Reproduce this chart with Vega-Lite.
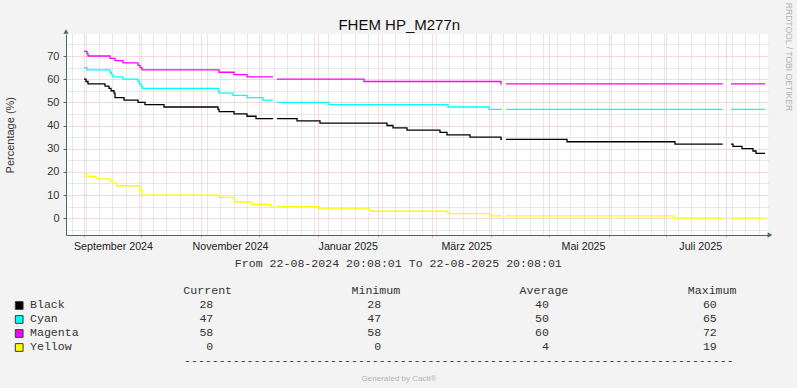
{
  "$schema": "https://vega.github.io/schema/vega-lite/v6.json",
  "width": 702,
  "height": 201,
  "autosize": {"type": "none"},
  "padding": {"left": 66, "top": 34, "right": 29, "bottom": 153},
  "background": "#F3F3F3",
  "config": {
    "view": {"fill": "#FFFFFF", "stroke": null},
    "axis": {"labelFont": "Liberation Sans", "titleFont": "Liberation Sans"}
  },
  "datasets": {
    "lines": [
      {"series": "Black", "time": "2024-09-01T04:46", "value": 60},
      {"series": "Black", "time": "2024-09-02T05:44", "value": 59},
      {"series": "Black", "time": "2024-09-03T06:42", "value": 58},
      {"series": "Black", "time": "2024-09-12T02:50", "value": 57},
      {"series": "Black", "time": "2024-09-14T04:44", "value": 56},
      {"series": "Black", "time": "2024-09-15T05:41", "value": 55},
      {"series": "Black", "time": "2024-09-16T19:08", "value": 54},
      {"series": "Black", "time": "2024-09-17T07:36", "value": 52},
      {"series": "Black", "time": "2024-09-22T00:00", "value": 51},
      {"series": "Black", "time": "2024-09-29T06:37", "value": 50},
      {"series": "Black", "time": "2024-10-02T21:58", "value": 49},
      {"series": "Black", "time": "2024-10-12T19:03", "value": 48},
      {"series": "Black", "time": "2024-11-09T20:54", "value": 47},
      {"series": "Black", "time": "2024-11-10T09:23", "value": 46},
      {"series": "Black", "time": "2024-11-18T04:34", "value": 45},
      {"series": "Black", "time": "2024-11-24T22:47", "value": 44},
      {"series": "Black", "time": "2024-11-29T15:06", "value": 43},
      {"series": "Black", "time": "2024-12-08T11:14", "value": 43},
      {"series": "Black", "time": "2024-12-09T12:10", "value": null},
      {"series": "Black", "time": "2024-12-10T13:08", "value": 43},
      {"series": "Black", "time": "2024-12-20T22:42", "value": 42},
      {"series": "Black", "time": "2025-01-01T21:43", "value": 41},
      {"series": "Black", "time": "2025-02-05T17:47", "value": 40},
      {"series": "Black", "time": "2025-02-08T20:38", "value": 39},
      {"series": "Black", "time": "2025-02-16T03:22", "value": 38},
      {"series": "Black", "time": "2025-03-05T07:09", "value": 37},
      {"series": "Black", "time": "2025-03-08T22:29", "value": 36},
      {"series": "Black", "time": "2025-03-20T21:30", "value": 35},
      {"series": "Black", "time": "2025-04-06T00:20", "value": 34},
      {"series": "Black", "time": "2025-04-06T12:49", "value": 34},
      {"series": "Black", "time": "2025-04-07T13:47", "value": null},
      {"series": "Black", "time": "2025-04-08T14:44", "value": 34},
      {"series": "Black", "time": "2025-05-10T07:55", "value": 33},
      {"series": "Black", "time": "2025-07-05T11:35", "value": 32},
      {"series": "Black", "time": "2025-07-30T06:50", "value": 32},
      {"series": "Black", "time": "2025-08-01T12:29", "value": null},
      {"series": "Black", "time": "2025-08-03T14:24", "value": 32},
      {"series": "Black", "time": "2025-08-04T15:22", "value": 31},
      {"series": "Black", "time": "2025-08-09T07:39", "value": 30},
      {"series": "Black", "time": "2025-08-15T00:56", "value": 29},
      {"series": "Black", "time": "2025-08-16T14:22", "value": 28},
      {"series": "Black", "time": "2025-08-21T06:40", "value": 28},
      {"series": "Cyan", "time": "2024-09-01T04:46", "value": 65},
      {"series": "Cyan", "time": "2024-09-02T18:13", "value": 64},
      {"series": "Cyan", "time": "2024-09-14T17:12", "value": 63},
      {"series": "Cyan", "time": "2024-09-15T11:56", "value": 62},
      {"series": "Cyan", "time": "2024-09-16T06:39", "value": 61},
      {"series": "Cyan", "time": "2024-09-21T11:27", "value": 60},
      {"series": "Cyan", "time": "2024-09-29T06:37", "value": 59},
      {"series": "Cyan", "time": "2024-09-30T01:20", "value": 58},
      {"series": "Cyan", "time": "2024-09-30T20:04", "value": 57},
      {"series": "Cyan", "time": "2024-10-01T14:45", "value": 56},
      {"series": "Cyan", "time": "2024-11-10T03:09", "value": 55},
      {"series": "Cyan", "time": "2024-11-10T09:23", "value": 54},
      {"series": "Cyan", "time": "2024-11-17T16:05", "value": 53},
      {"series": "Cyan", "time": "2024-11-24T22:47", "value": 52},
      {"series": "Cyan", "time": "2024-12-03T06:26", "value": 51},
      {"series": "Cyan", "time": "2024-12-08T11:14", "value": 51},
      {"series": "Cyan", "time": "2024-12-09T12:10", "value": null},
      {"series": "Cyan", "time": "2024-12-10T13:08", "value": 50},
      {"series": "Cyan", "time": "2025-01-06T14:01", "value": 49},
      {"series": "Cyan", "time": "2025-03-09T10:58", "value": 48},
      {"series": "Cyan", "time": "2025-03-30T18:36", "value": 47},
      {"series": "Cyan", "time": "2025-04-06T12:49", "value": 47},
      {"series": "Cyan", "time": "2025-04-07T13:47", "value": null},
      {"series": "Cyan", "time": "2025-04-08T14:44", "value": 47},
      {"series": "Cyan", "time": "2025-07-30T06:50", "value": 47},
      {"series": "Cyan", "time": "2025-08-01T12:29", "value": null},
      {"series": "Cyan", "time": "2025-08-03T14:24", "value": 47},
      {"series": "Cyan", "time": "2025-08-21T06:40", "value": 47},
      {"series": "Magenta", "time": "2024-09-01T04:46", "value": 72},
      {"series": "Magenta", "time": "2024-09-02T18:13", "value": 71},
      {"series": "Magenta", "time": "2024-09-03T06:42", "value": 70},
      {"series": "Magenta", "time": "2024-09-14T17:12", "value": 69},
      {"series": "Magenta", "time": "2024-09-17T07:36", "value": 68},
      {"series": "Magenta", "time": "2024-09-21T11:27", "value": 67},
      {"series": "Magenta", "time": "2024-09-29T06:37", "value": 66},
      {"series": "Magenta", "time": "2024-09-30T07:35", "value": 65},
      {"series": "Magenta", "time": "2024-10-01T08:31", "value": 64},
      {"series": "Magenta", "time": "2024-11-10T09:23", "value": 63},
      {"series": "Magenta", "time": "2024-11-18T04:34", "value": 62},
      {"series": "Magenta", "time": "2024-11-24T22:47", "value": 61},
      {"series": "Magenta", "time": "2024-12-08T11:14", "value": 61},
      {"series": "Magenta", "time": "2024-12-09T12:10", "value": null},
      {"series": "Magenta", "time": "2024-12-10T13:08", "value": 60},
      {"series": "Magenta", "time": "2025-01-24T18:46", "value": 59},
      {"series": "Magenta", "time": "2025-04-06T00:20", "value": 58},
      {"series": "Magenta", "time": "2025-04-06T12:49", "value": 58},
      {"series": "Magenta", "time": "2025-04-07T13:47", "value": null},
      {"series": "Magenta", "time": "2025-04-08T14:44", "value": 58},
      {"series": "Magenta", "time": "2025-07-30T06:50", "value": 58},
      {"series": "Magenta", "time": "2025-08-01T12:29", "value": null},
      {"series": "Magenta", "time": "2025-08-03T14:24", "value": 58},
      {"series": "Magenta", "time": "2025-08-21T06:40", "value": 58},
      {"series": "Yellow", "time": "2024-09-01T04:46", "value": 19},
      {"series": "Yellow", "time": "2024-09-02T18:13", "value": 18},
      {"series": "Yellow", "time": "2024-09-07T10:30", "value": 17},
      {"series": "Yellow", "time": "2024-09-14T17:12", "value": 16},
      {"series": "Yellow", "time": "2024-09-16T06:39", "value": 15},
      {"series": "Yellow", "time": "2024-09-18T08:34", "value": 14},
      {"series": "Yellow", "time": "2024-09-30T07:35", "value": 12},
      {"series": "Yellow", "time": "2024-10-01T08:31", "value": 10},
      {"series": "Yellow", "time": "2024-11-10T09:23", "value": 9},
      {"series": "Yellow", "time": "2024-11-18T04:34", "value": 8},
      {"series": "Yellow", "time": "2024-11-18T17:02", "value": 7},
      {"series": "Yellow", "time": "2024-11-27T13:11", "value": 6},
      {"series": "Yellow", "time": "2024-12-07T10:16", "value": 5},
      {"series": "Yellow", "time": "2024-12-08T11:14", "value": 5},
      {"series": "Yellow", "time": "2024-12-09T12:10", "value": null},
      {"series": "Yellow", "time": "2024-12-10T13:08", "value": 5},
      {"series": "Yellow", "time": "2025-01-01T09:14", "value": 4},
      {"series": "Yellow", "time": "2025-01-27T21:39", "value": 3},
      {"series": "Yellow", "time": "2025-03-09T10:58", "value": 2},
      {"series": "Yellow", "time": "2025-03-31T07:05", "value": 1},
      {"series": "Yellow", "time": "2025-04-06T12:49", "value": 1},
      {"series": "Yellow", "time": "2025-04-07T13:47", "value": null},
      {"series": "Yellow", "time": "2025-04-08T14:44", "value": 1},
      {"series": "Yellow", "time": "2025-07-04T23:08", "value": 0},
      {"series": "Yellow", "time": "2025-07-30T06:50", "value": 0},
      {"series": "Yellow", "time": "2025-08-01T12:29", "value": null},
      {"series": "Yellow", "time": "2025-08-03T14:24", "value": 0},
      {"series": "Yellow", "time": "2025-08-21T06:40", "value": 0}
    ],
    "stats": [
      {"series": "Black", "Current": 28, "Minimum": 28, "Average": 40, "Maximum": 60},
      {"series": "Cyan", "Current": 47, "Minimum": 47, "Average": 50, "Maximum": 65},
      {"series": "Magenta", "Current": 58, "Minimum": 58, "Average": 60, "Maximum": 72},
      {"series": "Yellow", "Current": 0, "Minimum": 0, "Average": 4, "Maximum": 19}
    ]
  },
  "layer": [
    {
      "data": {"name": "lines"},
      "transform": [{"filter": "datum.series === 'Black'"}],
      "mark": {"type": "line", "interpolate": "step-after", "color": "#000000", "strokeWidth": 1.3},
      "encoding": {
        "x": {
          "field": "time", "type": "temporal",
          "scale": {"domain": [{"year": 2024, "month": 8, "date": 22, "hours": 20, "minutes": 8, "seconds": 1}, {"year": 2025, "month": 8, "date": 22, "hours": 20, "minutes": 8, "seconds": 1}]},
          "axis": {
            "orient": "top",
            "values": [
              {"year": 2024, "month": 8, "date": 26},
              {"year": 2024, "month": 9, "date": 2}, {"year": 2024, "month": 9, "date": 9}, {"year": 2024, "month": 9, "date": 16}, {"year": 2024, "month": 9, "date": 23}, {"year": 2024, "month": 9, "date": 30},
              {"year": 2024, "month": 10, "date": 7}, {"year": 2024, "month": 10, "date": 14}, {"year": 2024, "month": 10, "date": 21}, {"year": 2024, "month": 10, "date": 28},
              {"year": 2024, "month": 11, "date": 4}, {"year": 2024, "month": 11, "date": 11}, {"year": 2024, "month": 11, "date": 18}, {"year": 2024, "month": 11, "date": 25},
              {"year": 2024, "month": 12, "date": 2}, {"year": 2024, "month": 12, "date": 9}, {"year": 2024, "month": 12, "date": 16}, {"year": 2024, "month": 12, "date": 23}, {"year": 2024, "month": 12, "date": 30},
              {"year": 2025, "month": 1, "date": 6}, {"year": 2025, "month": 1, "date": 13}, {"year": 2025, "month": 1, "date": 20}, {"year": 2025, "month": 1, "date": 27},
              {"year": 2025, "month": 2, "date": 3}, {"year": 2025, "month": 2, "date": 10}, {"year": 2025, "month": 2, "date": 17}, {"year": 2025, "month": 2, "date": 24},
              {"year": 2025, "month": 3, "date": 3}, {"year": 2025, "month": 3, "date": 10}, {"year": 2025, "month": 3, "date": 17}, {"year": 2025, "month": 3, "date": 24}, {"year": 2025, "month": 3, "date": 31},
              {"year": 2025, "month": 4, "date": 7}, {"year": 2025, "month": 4, "date": 14}, {"year": 2025, "month": 4, "date": 21}, {"year": 2025, "month": 4, "date": 28},
              {"year": 2025, "month": 5, "date": 5}, {"year": 2025, "month": 5, "date": 12}, {"year": 2025, "month": 5, "date": 19}, {"year": 2025, "month": 5, "date": 26},
              {"year": 2025, "month": 6, "date": 2}, {"year": 2025, "month": 6, "date": 9}, {"year": 2025, "month": 6, "date": 16}, {"year": 2025, "month": 6, "date": 23}, {"year": 2025, "month": 6, "date": 30},
              {"year": 2025, "month": 7, "date": 7}, {"year": 2025, "month": 7, "date": 14}, {"year": 2025, "month": 7, "date": 21}, {"year": 2025, "month": 7, "date": 28},
              {"year": 2025, "month": 8, "date": 4}, {"year": 2025, "month": 8, "date": 11}, {"year": 2025, "month": 8, "date": 18}
            ],
            "grid": true, "gridColor": "#d0d0d0", "gridDash": [1, 1], "gridWidth": 1,
            "ticks": false, "labels": false, "domain": false,
            "title": "FHEM HP_M277n", "titleX": 332.8, "titleY": -5, "titleAlign": "center", "titleBaseline": "alphabetic",
            "titleFont": "Liberation Sans", "titleFontSize": 15, "titleFontWeight": "normal", "titleColor": "#111111"
          }
        },
        "y": {
          "field": "value", "type": "quantitative",
          "scale": {"domain": [-7.25, 79.5], "nice": false, "zero": false},
          "axis": {
            "orient": "right",
            "values": [-5, 5, 15, 25, 35, 45, 55, 65, 75],
            "grid": true, "gridColor": "#d0d0d0", "gridDash": [1, 1], "gridWidth": 1,
            "ticks": false, "labels": false, "domain": false,
            "title": "RRDTOOL / TOBI OETIKER", "titleX": 20.5, "titleY": 22.5, "titleAngle": 90, "titleAlign": "center", "titleBaseline": "middle",
            "titleFontSize": 8.6, "titleFontWeight": "normal", "titleColor": "#b4b4b4"
          }
        }
      }
    },
    {
      "data": {"name": "lines"},
      "transform": [{"filter": "datum.series === 'Cyan'"}],
      "mark": {"type": "line", "interpolate": "step-after", "color": "#00FFFF", "strokeWidth": 1.3},
      "encoding": {
        "x": {
          "field": "time", "type": "temporal",
          "scale": {"domain": [{"year": 2024, "month": 8, "date": 22, "hours": 20, "minutes": 8, "seconds": 1}, {"year": 2025, "month": 8, "date": 22, "hours": 20, "minutes": 8, "seconds": 1}]},
          "axis": {
            "orient": "bottom",
            "values": [
              {"year": 2024, "month": 9, "date": 1}, {"year": 2024, "month": 10, "date": 1}, {"year": 2024, "month": 11, "date": 1}, {"year": 2024, "month": 12, "date": 1},
              {"year": 2025, "month": 1, "date": 1}, {"year": 2025, "month": 2, "date": 1}, {"year": 2025, "month": 3, "date": 1}, {"year": 2025, "month": 4, "date": 1},
              {"year": 2025, "month": 5, "date": 1}, {"year": 2025, "month": 6, "date": 1}, {"year": 2025, "month": 7, "date": 1}, {"year": 2025, "month": 8, "date": 1}
            ],
            "grid": true, "gridColor": "#eeb6b6", "gridDash": [1, 1], "gridWidth": 1,
            "ticks": true, "tickSize": 2, "tickColor": "#e4a0a0",
            "labels": false, "domain": false,
            "title": "Generated by Cacti®", "titleX": 332.5, "titleY": 145.5, "titleAlign": "center", "titleBaseline": "alphabetic",
            "titleFontSize": 8, "titleFontWeight": "normal", "titleColor": "#b4b4b4"
          }
        },
        "y": {
          "field": "value", "type": "quantitative",
          "scale": {"domain": [-7.25, 79.5], "nice": false, "zero": false},
          "axis": {
            "orient": "left",
            "values": [0, 10, 20, 30, 40, 50, 60, 70],
            "grid": true, "gridColor": "#eeb6b6", "gridDash": [1, 1], "gridWidth": 1,
            "ticks": true, "tickSize": 3, "tickColor": "#4c6a63",
            "labels": true, "labelFontSize": 11, "labelColor": "#333333", "labelPadding": 4,
            "domain": true, "domainColor": "#4c6a63",
            "title": "Percentage (%)", "titleX": -55.3, "titleY": 100.7, "titleAngle": 270, "titleAlign": "center", "titleBaseline": "middle",
            "titleFontSize": 11, "titleFontWeight": "normal", "titleColor": "#333333"
          }
        }
      }
    },
    {
      "data": {"name": "lines"},
      "transform": [{"filter": "datum.series === 'Magenta'"}],
      "mark": {"type": "line", "interpolate": "step-after", "color": "#FF00FF", "strokeWidth": 1.3},
      "encoding": {
        "x": {
          "field": "time", "type": "temporal",
          "scale": {"domain": [{"year": 2024, "month": 8, "date": 22, "hours": 20, "minutes": 8, "seconds": 1}, {"year": 2025, "month": 8, "date": 22, "hours": 20, "minutes": 8, "seconds": 1}]},
          "axis": {
            "orient": "bottom",
            "values": [
              {"year": 2024, "month": 9, "date": 16, "hours": 6, "minutes": 39},
              {"year": 2024, "month": 11, "date": 16, "hours": 2, "minutes": 38},
              {"year": 2025, "month": 1, "date": 16, "hours": 8, "minutes": 38},
              {"year": 2025, "month": 3, "date": 18, "hours": 22, "minutes": 5},
              {"year": 2025, "month": 5, "date": 18, "hours": 15, "minutes": 36},
              {"year": 2025, "month": 7, "date": 18, "hours": 14, "minutes": 10}
            ],
            "labelExpr": "['Januar','Februar','März','April','Mai','Juni','Juli','August','September','Oktober','November','Dezember'][month(datum.value)] + ' ' + year(datum.value)",
            "grid": false, "ticks": false, "tickSize": 0,
            "labels": true, "labelFontSize": 10.7, "labelColor": "#222222", "labelBaseline": "alphabetic", "labelPadding": 14.5,
            "labelOverlap": false, "labelFlush": false, "labelBound": false,
            "domain": true, "domainColor": "#4c6a63",
            "title": "From 22-08-2024 20:08:01 To 22-08-2025 20:08:01", "titleX": 331.8, "titleY": 31, "titleAlign": "center", "titleBaseline": "alphabetic",
            "titleFont": "Liberation Mono", "titleFontSize": 11.6, "titleFontWeight": "normal", "titleColor": "#333333"
          }
        },
        "y": {
          "field": "value", "type": "quantitative",
          "scale": {"domain": [-7.25, 79.5], "nice": false, "zero": false},
          "axis": null
        }
      }
    },
    {
      "data": {"name": "lines"},
      "transform": [{"filter": "datum.series === 'Yellow'"}],
      "mark": {"type": "line", "interpolate": "step-after", "color": "#FFFF00", "strokeWidth": 1.3},
      "encoding": {
        "x": {
          "field": "time", "type": "temporal",
          "scale": {"domain": [{"year": 2024, "month": 8, "date": 22, "hours": 20, "minutes": 8, "seconds": 1}, {"year": 2025, "month": 8, "date": 22, "hours": 20, "minutes": 8, "seconds": 1}]},
          "axis": null
        },
        "y": {
          "field": "value", "type": "quantitative",
          "scale": {"domain": [-7.25, 79.5], "nice": false, "zero": false},
          "axis": null
        }
      }
    },
    {
      "data": {"values": [{}]},
      "mark": {"type": "point", "shape": "triangle-up", "filled": true, "size": 28, "color": "#4c6a63", "opacity": 1},
      "encoding": {
        "x": {
          "datum": {"year": 2024, "month": 8, "date": 22, "hours": 20, "minutes": 8, "seconds": 1}, "type": "temporal",
          "scale": {"domain": [{"year": 2024, "month": 8, "date": 22, "hours": 20, "minutes": 8, "seconds": 1}, {"year": 2025, "month": 8, "date": 22, "hours": 20, "minutes": 8, "seconds": 1}]},
          "axis": null
        },
        "y": {"datum": 80.6, "type": "quantitative", "scale": {"domain": [-7.25, 79.5], "nice": false, "zero": false}, "axis": null}
      }
    },
    {
      "data": {"values": [{}]},
      "mark": {"type": "point", "shape": "triangle-right", "filled": true, "size": 28, "color": "#4c6a63", "opacity": 1},
      "encoding": {
        "x": {
          "datum": {"year": 2025, "month": 8, "date": 23, "hours": 20, "minutes": 0}, "type": "temporal",
          "scale": {"domain": [{"year": 2024, "month": 8, "date": 22, "hours": 20, "minutes": 8, "seconds": 1}, {"year": 2025, "month": 8, "date": 22, "hours": 20, "minutes": 8, "seconds": 1}]},
          "axis": null
        },
        "y": {"datum": -7.25, "type": "quantitative", "scale": {"domain": [-7.25, 79.5], "nice": false, "zero": false}, "axis": null}
      }
    },
    {
      "data": {"values": [{"stat": "Current"}, {"stat": "Minimum"}, {"stat": "Average"}, {"stat": "Maximum"}]},
      "mark": {"type": "text", "font": "Liberation Mono", "fontSize": 11.6, "color": "#333333", "align": "center", "baseline": "alphabetic"},
      "encoding": {
        "x": {"field": "stat", "type": "nominal", "scale": {"type": "point", "domain": ["Current", "Minimum", "Average", "Maximum"], "range": [141.7, 646.1], "padding": 0}, "axis": null},
        "y": {"datum": "Header", "type": "nominal", "scale": {"type": "point", "domain": ["Header", "Black", "Cyan", "Magenta", "Yellow"], "range": [260, 316], "padding": 0}, "axis": null},
        "text": {"field": "stat", "type": "nominal"}
      }
    },
    {
      "data": {"name": "stats"},
      "transform": [{"fold": ["Current", "Minimum", "Average", "Maximum"], "as": ["stat", "amount"]}],
      "mark": {"type": "text", "font": "Liberation Mono", "fontSize": 11.6, "color": "#333333", "align": "right", "baseline": "alphabetic"},
      "encoding": {
        "x": {"field": "stat", "type": "nominal", "scale": {"type": "point", "domain": ["Current", "Minimum", "Average", "Maximum"], "range": [147.3, 650.8], "padding": 0}, "axis": null},
        "y": {"field": "series", "type": "nominal", "scale": {"type": "point", "domain": ["Header", "Black", "Cyan", "Magenta", "Yellow"], "range": [260, 316], "padding": 0}, "axis": null},
        "text": {"field": "amount", "type": "quantitative", "format": "d"}
      }
    },
    {
      "data": {"name": "stats"},
      "mark": {"type": "text", "font": "Liberation Mono", "fontSize": 11.6, "color": "#333333", "align": "left", "baseline": "alphabetic"},
      "encoding": {
        "x": {"datum": "Name", "type": "nominal", "scale": {"type": "point", "domain": ["Name"], "range": [-36, -36], "padding": 0}, "axis": null},
        "y": {"field": "series", "type": "nominal", "scale": {"type": "point", "domain": ["Header", "Black", "Cyan", "Magenta", "Yellow"], "range": [260, 316], "padding": 0}, "axis": null},
        "text": {"field": "series", "type": "nominal"}
      }
    },
    {
      "data": {"name": "stats"},
      "mark": {"type": "point", "shape": "square", "filled": true, "size": 60, "stroke": "#2e3e3a", "strokeWidth": 1, "opacity": 1},
      "encoding": {
        "x": {"datum": "Swatch", "type": "nominal", "scale": {"type": "point", "domain": ["Swatch"], "range": [-46.8, -46.8], "padding": 0}, "axis": null},
        "y": {"field": "series", "type": "nominal", "scale": {"type": "point", "domain": ["Black", "Cyan", "Magenta", "Yellow"], "range": [271.5, 313.5], "padding": 0}, "axis": null},
        "color": {"field": "series", "type": "nominal", "scale": {"domain": ["Black", "Cyan", "Magenta", "Yellow"], "range": ["#000000", "#00FFFF", "#FF00FF", "#FFFF00"]}, "legend": null}
      }
    },
    {
      "data": {"values": [{}]},
      "mark": {"type": "text", "text": "-------------------------------------------------------------------------------", "font": "Liberation Mono", "fontSize": 11.6, "color": "#333333", "align": "left", "baseline": "alphabetic"},
      "encoding": {
        "x": {"datum": "Rule", "type": "nominal", "scale": {"type": "point", "domain": ["Rule"], "range": [118, 118], "padding": 0}, "axis": null},
        "y": {"datum": "Rule", "type": "nominal", "scale": {"type": "point", "domain": ["Rule"], "range": [330, 330], "padding": 0}, "axis": null}
      }
    }
  ],
  "resolve": {
    "scale": {"x": "independent", "y": "independent", "color": "independent"},
    "axis": {"x": "independent", "y": "independent"}
  }
}
